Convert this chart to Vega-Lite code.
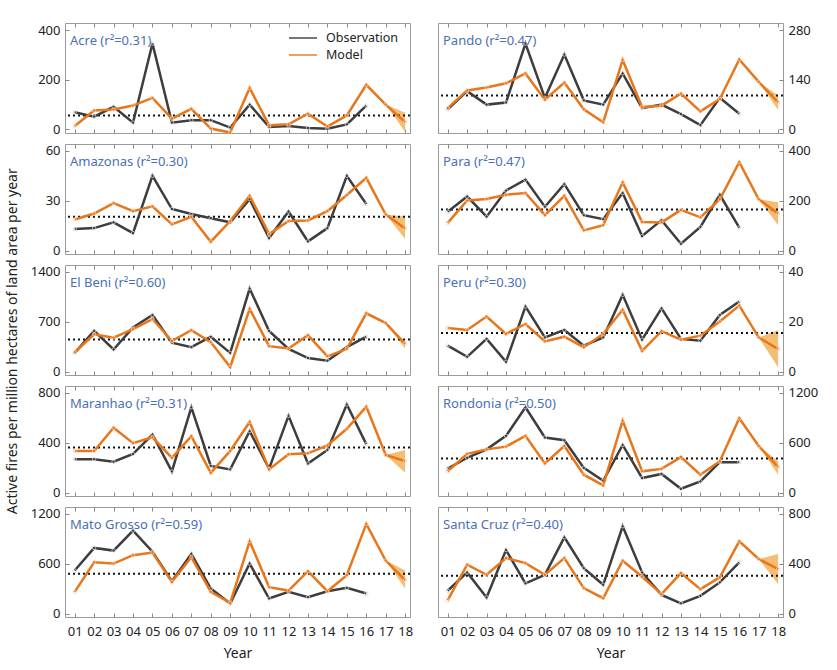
{
"$schema":"https://vega.github.io/schema/vega-lite/v6.json",
"background":"white",
"padding":{"left":5,"top":22,"right":5,"bottom":5},
"title":{"text":"Active fires per million hectares of land area per year","orient":"left","anchor":"middle","frame":"bounds","offset":10,"dx":0,"fontSize":14,"color":"#222","fontWeight":"normal"},
"data":{"values":[
{"region":"Acre","year":1,"series":"obs","value":69},{"region":"Acre","year":2,"series":"obs","value":51},{"region":"Acre","year":3,"series":"obs","value":91},{"region":"Acre","year":4,"series":"obs","value":27},{"region":"Acre","year":5,"series":"obs","value":347},{"region":"Acre","year":6,"series":"obs","value":27},{"region":"Acre","year":7,"series":"obs","value":37},{"region":"Acre","year":8,"series":"obs","value":37},{"region":"Acre","year":9,"series":"obs","value":7},{"region":"Acre","year":10,"series":"obs","value":100},{"region":"Acre","year":11,"series":"obs","value":9},{"region":"Acre","year":12,"series":"obs","value":13},{"region":"Acre","year":13,"series":"obs","value":5},{"region":"Acre","year":14,"series":"obs","value":2},{"region":"Acre","year":15,"series":"obs","value":20},{"region":"Acre","year":16,"series":"obs","value":96},
{"region":"Acre","year":1,"series":"model","value":13},{"region":"Acre","year":2,"series":"model","value":76},{"region":"Acre","year":3,"series":"model","value":80},{"region":"Acre","year":4,"series":"model","value":96},{"region":"Acre","year":5,"series":"model","value":127},{"region":"Acre","year":6,"series":"model","value":43},{"region":"Acre","year":7,"series":"model","value":83},{"region":"Acre","year":8,"series":"model","value":3},{"region":"Acre","year":9,"series":"model","value":-13},{"region":"Acre","year":10,"series":"model","value":167},{"region":"Acre","year":11,"series":"model","value":16},{"region":"Acre","year":12,"series":"model","value":20},{"region":"Acre","year":13,"series":"model","value":63},{"region":"Acre","year":14,"series":"model","value":11},{"region":"Acre","year":15,"series":"model","value":56},{"region":"Acre","year":16,"series":"model","value":180},{"region":"Acre","year":17,"series":"model","value":100},{"region":"Acre","year":18,"series":"model","value":29},
{"region":"Acre","year":17,"series":"band","value":100,"value2":100},{"region":"Acre","year":18,"series":"band","value":-11,"value2":67},{"region":"Acre","series":"mean","value":56},

{"region":"Pando","year":1,"series":"obs","value":57},{"region":"Pando","year":2,"series":"obs","value":108},{"region":"Pando","year":3,"series":"obs","value":70},{"region":"Pando","year":4,"series":"obs","value":76},{"region":"Pando","year":5,"series":"obs","value":242},{"region":"Pando","year":6,"series":"obs","value":89},{"region":"Pando","year":7,"series":"obs","value":211},{"region":"Pando","year":8,"series":"obs","value":82},{"region":"Pando","year":9,"series":"obs","value":70},{"region":"Pando","year":10,"series":"obs","value":158},{"region":"Pando","year":11,"series":"obs","value":60},{"region":"Pando","year":12,"series":"obs","value":70},{"region":"Pando","year":13,"series":"obs","value":43},{"region":"Pando","year":14,"series":"obs","value":12},{"region":"Pando","year":15,"series":"obs","value":89},{"region":"Pando","year":16,"series":"obs","value":44},
{"region":"Pando","year":1,"series":"model","value":60},{"region":"Pando","year":2,"series":"model","value":110},{"region":"Pando","year":3,"series":"model","value":118},{"region":"Pando","year":4,"series":"model","value":130},{"region":"Pando","year":5,"series":"model","value":158},{"region":"Pando","year":6,"series":"model","value":84},{"region":"Pando","year":7,"series":"model","value":132},{"region":"Pando","year":8,"series":"model","value":57},{"region":"Pando","year":9,"series":"model","value":20},{"region":"Pando","year":10,"series":"model","value":196},{"region":"Pando","year":11,"series":"model","value":63},{"region":"Pando","year":12,"series":"model","value":67},{"region":"Pando","year":13,"series":"model","value":101},{"region":"Pando","year":14,"series":"model","value":51},{"region":"Pando","year":15,"series":"model","value":86},{"region":"Pando","year":16,"series":"model","value":197},{"region":"Pando","year":17,"series":"model","value":134},{"region":"Pando","year":18,"series":"model","value":76},
{"region":"Pando","year":17,"series":"band","value":134,"value2":134},{"region":"Pando","year":18,"series":"band","value":55,"value2":96},{"region":"Pando","series":"mean","value":96},

{"region":"Amazonas","year":1,"series":"obs","value":13},{"region":"Amazonas","year":2,"series":"obs","value":13.5},{"region":"Amazonas","year":3,"series":"obs","value":17},{"region":"Amazonas","year":4,"series":"obs","value":10.5},{"region":"Amazonas","year":5,"series":"obs","value":45},{"region":"Amazonas","year":6,"series":"obs","value":25},{"region":"Amazonas","year":7,"series":"obs","value":22},{"region":"Amazonas","year":8,"series":"obs","value":19.5},{"region":"Amazonas","year":9,"series":"obs","value":17},{"region":"Amazonas","year":10,"series":"obs","value":31},{"region":"Amazonas","year":11,"series":"obs","value":7.5},{"region":"Amazonas","year":12,"series":"obs","value":23.5},{"region":"Amazonas","year":13,"series":"obs","value":5.5},{"region":"Amazonas","year":14,"series":"obs","value":13.5},{"region":"Amazonas","year":15,"series":"obs","value":45},{"region":"Amazonas","year":16,"series":"obs","value":28},
{"region":"Amazonas","year":1,"series":"model","value":18.7},{"region":"Amazonas","year":2,"series":"model","value":22.3},{"region":"Amazonas","year":3,"series":"model","value":28.6},{"region":"Amazonas","year":4,"series":"model","value":23.7},{"region":"Amazonas","year":5,"series":"model","value":26.6},{"region":"Amazonas","year":6,"series":"model","value":15.8},{"region":"Amazonas","year":7,"series":"model","value":20.3},{"region":"Amazonas","year":8,"series":"model","value":5.3},{"region":"Amazonas","year":9,"series":"model","value":17.8},{"region":"Amazonas","year":10,"series":"model","value":33},{"region":"Amazonas","year":11,"series":"model","value":9.9},{"region":"Amazonas","year":12,"series":"model","value":17.8},{"region":"Amazonas","year":13,"series":"model","value":18.1},{"region":"Amazonas","year":14,"series":"model","value":23.7},{"region":"Amazonas","year":15,"series":"model","value":33.5},{"region":"Amazonas","year":16,"series":"model","value":43.8},{"region":"Amazonas","year":17,"series":"model","value":21.7},{"region":"Amazonas","year":18,"series":"model","value":13.2},
{"region":"Amazonas","year":17,"series":"band","value":21.7,"value2":21.7},{"region":"Amazonas","year":18,"series":"band","value":6.9,"value2":20.3},{"region":"Amazonas","series":"mean","value":20.3},

{"region":"Para","year":1,"series":"obs","value":156},{"region":"Para","year":2,"series":"obs","value":217},{"region":"Para","year":3,"series":"obs","value":136},{"region":"Para","year":4,"series":"obs","value":241},{"region":"Para","year":5,"series":"obs","value":285},{"region":"Para","year":6,"series":"obs","value":176},{"region":"Para","year":7,"series":"obs","value":267},{"region":"Para","year":8,"series":"obs","value":142},{"region":"Para","year":9,"series":"obs","value":126},{"region":"Para","year":10,"series":"obs","value":231},{"region":"Para","year":11,"series":"obs","value":58},{"region":"Para","year":12,"series":"obs","value":122},{"region":"Para","year":13,"series":"obs","value":27},{"region":"Para","year":14,"series":"obs","value":95},{"region":"Para","year":15,"series":"obs","value":224},{"region":"Para","year":16,"series":"obs","value":92},
{"region":"Para","year":1,"series":"model","value":111},{"region":"Para","year":2,"series":"model","value":201},{"region":"Para","year":3,"series":"model","value":207},{"region":"Para","year":4,"series":"model","value":224},{"region":"Para","year":5,"series":"model","value":231},{"region":"Para","year":6,"series":"model","value":142},{"region":"Para","year":7,"series":"model","value":220},{"region":"Para","year":8,"series":"model","value":81},{"region":"Para","year":9,"series":"model","value":102},{"region":"Para","year":10,"series":"model","value":274},{"region":"Para","year":11,"series":"model","value":115},{"region":"Para","year":12,"series":"model","value":113},{"region":"Para","year":13,"series":"model","value":163},{"region":"Para","year":14,"series":"model","value":133},{"region":"Para","year":15,"series":"model","value":206},{"region":"Para","year":16,"series":"model","value":355},{"region":"Para","year":17,"series":"model","value":206},{"region":"Para","year":18,"series":"model","value":149},
{"region":"Para","year":17,"series":"band","value":206,"value2":206},{"region":"Para","year":18,"series":"band","value":102,"value2":194},{"region":"Para","series":"mean","value":165},

{"region":"El Beni","year":1,"series":"obs","value":262},{"region":"El Beni","year":2,"series":"obs","value":571},{"region":"El Beni","year":3,"series":"obs","value":310},{"region":"El Beni","year":4,"series":"obs","value":619},{"region":"El Beni","year":5,"series":"obs","value":795},{"region":"El Beni","year":6,"series":"obs","value":405},{"region":"El Beni","year":7,"series":"obs","value":343},{"region":"El Beni","year":8,"series":"obs","value":490},{"region":"El Beni","year":9,"series":"obs","value":262},{"region":"El Beni","year":10,"series":"obs","value":1167},{"region":"El Beni","year":11,"series":"obs","value":571},{"region":"El Beni","year":12,"series":"obs","value":319},{"region":"El Beni","year":13,"series":"obs","value":190},{"region":"El Beni","year":14,"series":"obs","value":152},{"region":"El Beni","year":15,"series":"obs","value":343},{"region":"El Beni","year":16,"series":"obs","value":490},
{"region":"El Beni","year":1,"series":"model","value":271},{"region":"El Beni","year":2,"series":"model","value":524},{"region":"El Beni","year":3,"series":"model","value":476},{"region":"El Beni","year":4,"series":"model","value":595},{"region":"El Beni","year":5,"series":"model","value":738},{"region":"El Beni","year":6,"series":"model","value":429},{"region":"El Beni","year":7,"series":"model","value":581},{"region":"El Beni","year":8,"series":"model","value":414},{"region":"El Beni","year":9,"series":"model","value":62},{"region":"El Beni","year":10,"series":"model","value":881},{"region":"El Beni","year":11,"series":"model","value":357},{"region":"El Beni","year":12,"series":"model","value":324},{"region":"El Beni","year":13,"series":"model","value":510},{"region":"El Beni","year":14,"series":"model","value":214},{"region":"El Beni","year":15,"series":"model","value":319},{"region":"El Beni","year":16,"series":"model","value":819},{"region":"El Beni","year":17,"series":"model","value":681},{"region":"El Beni","year":18,"series":"model","value":390},
{"region":"El Beni","year":17,"series":"band","value":681,"value2":681},{"region":"El Beni","year":18,"series":"band","value":319,"value2":414},{"region":"El Beni","series":"mean","value":452},

{"region":"Peru","year":1,"series":"obs","value":10.4},{"region":"Peru","year":2,"series":"obs","value":5.9},{"region":"Peru","year":3,"series":"obs","value":13.1},{"region":"Peru","year":4,"series":"obs","value":3.9},{"region":"Peru","year":5,"series":"obs","value":26.1},{"region":"Peru","year":6,"series":"obs","value":13.7},{"region":"Peru","year":7,"series":"obs","value":16.7},{"region":"Peru","year":8,"series":"obs","value":10.4},{"region":"Peru","year":9,"series":"obs","value":13.7},{"region":"Peru","year":10,"series":"obs","value":30.8},{"region":"Peru","year":11,"series":"obs","value":12.8},{"region":"Peru","year":12,"series":"obs","value":25.4},{"region":"Peru","year":13,"series":"obs","value":13.1},{"region":"Peru","year":14,"series":"obs","value":12.4},{"region":"Peru","year":15,"series":"obs","value":22.7},{"region":"Peru","year":16,"series":"obs","value":28.1},
{"region":"Peru","year":1,"series":"model","value":17.5},{"region":"Peru","year":2,"series":"model","value":16.7},{"region":"Peru","year":3,"series":"model","value":22.1},{"region":"Peru","year":4,"series":"model","value":15.1},{"region":"Peru","year":5,"series":"model","value":19.1},{"region":"Peru","year":6,"series":"model","value":12.1},{"region":"Peru","year":7,"series":"model","value":14},{"region":"Peru","year":8,"series":"model","value":9.7},{"region":"Peru","year":9,"series":"model","value":15.1},{"region":"Peru","year":10,"series":"model","value":24.8},{"region":"Peru","year":11,"series":"model","value":8.3},{"region":"Peru","year":12,"series":"model","value":16.2},{"region":"Peru","year":13,"series":"model","value":12.8},{"region":"Peru","year":14,"series":"model","value":14.4},{"region":"Peru","year":15,"series":"model","value":20.1},{"region":"Peru","year":16,"series":"model","value":26.5},{"region":"Peru","year":17,"series":"model","value":13.7},{"region":"Peru","year":18,"series":"model","value":9},
{"region":"Peru","year":17,"series":"band","value":13.7,"value2":13.7},{"region":"Peru","year":18,"series":"band","value":1.6,"value2":16.7},{"region":"Peru","series":"mean","value":15.5},

{"region":"Maranhao","year":1,"series":"obs","value":268},{"region":"Maranhao","year":2,"series":"obs","value":268},{"region":"Maranhao","year":3,"series":"obs","value":247},{"region":"Maranhao","year":4,"series":"obs","value":310},{"region":"Maranhao","year":5,"series":"obs","value":466},{"region":"Maranhao","year":6,"series":"obs","value":170},{"region":"Maranhao","year":7,"series":"obs","value":685},{"region":"Maranhao","year":8,"series":"obs","value":214},{"region":"Maranhao","year":9,"series":"obs","value":186},{"region":"Maranhao","year":10,"series":"obs","value":493},{"region":"Maranhao","year":11,"series":"obs","value":192},{"region":"Maranhao","year":12,"series":"obs","value":616},{"region":"Maranhao","year":13,"series":"obs","value":233},{"region":"Maranhao","year":14,"series":"obs","value":342},{"region":"Maranhao","year":15,"series":"obs","value":707},{"region":"Maranhao","year":16,"series":"obs","value":389},
{"region":"Maranhao","year":1,"series":"model","value":334},{"region":"Maranhao","year":2,"series":"model","value":334},{"region":"Maranhao","year":3,"series":"model","value":521},{"region":"Maranhao","year":4,"series":"model","value":397},{"region":"Maranhao","year":5,"series":"model","value":444},{"region":"Maranhao","year":6,"series":"model","value":279},{"region":"Maranhao","year":7,"series":"model","value":452},{"region":"Maranhao","year":8,"series":"model","value":159},{"region":"Maranhao","year":9,"series":"model","value":334},{"region":"Maranhao","year":10,"series":"model","value":567},{"region":"Maranhao","year":11,"series":"model","value":186},{"region":"Maranhao","year":12,"series":"model","value":307},{"region":"Maranhao","year":13,"series":"model","value":315},{"region":"Maranhao","year":14,"series":"model","value":378},{"region":"Maranhao","year":15,"series":"model","value":512},{"region":"Maranhao","year":16,"series":"model","value":690},{"region":"Maranhao","year":17,"series":"model","value":301},{"region":"Maranhao","year":18,"series":"model","value":252},
{"region":"Maranhao","year":17,"series":"band","value":301,"value2":301},{"region":"Maranhao","year":18,"series":"band","value":159,"value2":342},{"region":"Maranhao","series":"mean","value":362},

{"region":"Rondonia","year":1,"series":"obs","value":289},{"region":"Rondonia","year":2,"series":"obs","value":419},{"region":"Rondonia","year":3,"series":"obs","value":520},{"region":"Rondonia","year":4,"series":"obs","value":683},{"region":"Rondonia","year":5,"series":"obs","value":1028},{"region":"Rondonia","year":6,"series":"obs","value":663},{"region":"Rondonia","year":7,"series":"obs","value":630},{"region":"Rondonia","year":8,"series":"obs","value":297},{"region":"Rondonia","year":9,"series":"obs","value":142},{"region":"Rondonia","year":10,"series":"obs","value":573},{"region":"Rondonia","year":11,"series":"obs","value":175},{"region":"Rondonia","year":12,"series":"obs","value":224},{"region":"Rondonia","year":13,"series":"obs","value":45},{"region":"Rondonia","year":14,"series":"obs","value":134},{"region":"Rondonia","year":15,"series":"obs","value":366},{"region":"Rondonia","year":16,"series":"obs","value":366},
{"region":"Rondonia","year":1,"series":"model","value":256},{"region":"Rondonia","year":2,"series":"model","value":467},{"region":"Rondonia","year":3,"series":"model","value":520},{"region":"Rondonia","year":4,"series":"model","value":553},{"region":"Rondonia","year":5,"series":"model","value":683},{"region":"Rondonia","year":6,"series":"model","value":350},{"region":"Rondonia","year":7,"series":"model","value":561},{"region":"Rondonia","year":8,"series":"model","value":215},{"region":"Rondonia","year":9,"series":"model","value":85},{"region":"Rondonia","year":10,"series":"model","value":866},{"region":"Rondonia","year":11,"series":"model","value":256},{"region":"Rondonia","year":12,"series":"model","value":285},{"region":"Rondonia","year":13,"series":"model","value":427},{"region":"Rondonia","year":14,"series":"model","value":215},{"region":"Rondonia","year":15,"series":"model","value":378},{"region":"Rondonia","year":16,"series":"model","value":894},{"region":"Rondonia","year":17,"series":"model","value":561},{"region":"Rondonia","year":18,"series":"model","value":305},
{"region":"Rondonia","year":17,"series":"band","value":561,"value2":561},{"region":"Rondonia","year":18,"series":"band","value":215,"value2":378},{"region":"Rondonia","series":"mean","value":411},

{"region":"Mato Grosso","year":1,"series":"obs","value":518},{"region":"Mato Grosso","year":2,"series":"obs","value":791},{"region":"Mato Grosso","year":3,"series":"obs","value":759},{"region":"Mato Grosso","year":4,"series":"obs","value":1000},{"region":"Mato Grosso","year":5,"series":"obs","value":745},{"region":"Mato Grosso","year":6,"series":"obs","value":390},{"region":"Mato Grosso","year":7,"series":"obs","value":719},{"region":"Mato Grosso","year":8,"series":"obs","value":301},{"region":"Mato Grosso","year":9,"series":"obs","value":120},{"region":"Mato Grosso","year":10,"series":"obs","value":602},{"region":"Mato Grosso","year":11,"series":"obs","value":181},{"region":"Mato Grosso","year":12,"series":"obs","value":261},{"region":"Mato Grosso","year":13,"series":"obs","value":197},{"region":"Mato Grosso","year":14,"series":"obs","value":269},{"region":"Mato Grosso","year":15,"series":"obs","value":309},{"region":"Mato Grosso","year":16,"series":"obs","value":241},
{"region":"Mato Grosso","year":1,"series":"model","value":261},{"region":"Mato Grosso","year":2,"series":"model","value":618},{"region":"Mato Grosso","year":3,"series":"model","value":602},{"region":"Mato Grosso","year":4,"series":"model","value":703},{"region":"Mato Grosso","year":5,"series":"model","value":735},{"region":"Mato Grosso","year":6,"series":"model","value":382},{"region":"Mato Grosso","year":7,"series":"model","value":679},{"region":"Mato Grosso","year":8,"series":"model","value":261},{"region":"Mato Grosso","year":9,"series":"model","value":129},{"region":"Mato Grosso","year":10,"series":"model","value":871},{"region":"Mato Grosso","year":11,"series":"model","value":317},{"region":"Mato Grosso","year":12,"series":"model","value":277},{"region":"Mato Grosso","year":13,"series":"model","value":510},{"region":"Mato Grosso","year":14,"series":"model","value":269},{"region":"Mato Grosso","year":15,"series":"model","value":462},{"region":"Mato Grosso","year":16,"series":"model","value":1080},{"region":"Mato Grosso","year":17,"series":"model","value":639},{"region":"Mato Grosso","year":18,"series":"model","value":402},
{"region":"Mato Grosso","year":17,"series":"band","value":639,"value2":639},{"region":"Mato Grosso","year":18,"series":"band","value":301,"value2":518},{"region":"Mato Grosso","series":"mean","value":478},

{"region":"Santa Cruz","year":1,"series":"obs","value":183},{"region":"Santa Cruz","year":2,"series":"obs","value":330},{"region":"Santa Cruz","year":3,"series":"obs","value":129},{"region":"Santa Cruz","year":4,"series":"obs","value":510},{"region":"Santa Cruz","year":5,"series":"obs","value":242},{"region":"Santa Cruz","year":6,"series":"obs","value":311},{"region":"Santa Cruz","year":7,"series":"obs","value":612},{"region":"Santa Cruz","year":8,"series":"obs","value":365},{"region":"Santa Cruz","year":9,"series":"obs","value":231},{"region":"Santa Cruz","year":10,"series":"obs","value":701},{"region":"Santa Cruz","year":11,"series":"obs","value":330},{"region":"Santa Cruz","year":12,"series":"obs","value":150},{"region":"Santa Cruz","year":13,"series":"obs","value":81},{"region":"Santa Cruz","year":14,"series":"obs","value":142},{"region":"Santa Cruz","year":15,"series":"obs","value":250},{"region":"Santa Cruz","year":16,"series":"obs","value":411},
{"region":"Santa Cruz","year":1,"series":"model","value":107},{"region":"Santa Cruz","year":2,"series":"model","value":392},{"region":"Santa Cruz","year":3,"series":"model","value":311},{"region":"Santa Cruz","year":4,"series":"model","value":446},{"region":"Santa Cruz","year":5,"series":"model","value":405},{"region":"Santa Cruz","year":6,"series":"model","value":311},{"region":"Santa Cruz","year":7,"series":"model","value":446},{"region":"Santa Cruz","year":8,"series":"model","value":204},{"region":"Santa Cruz","year":9,"series":"model","value":123},{"region":"Santa Cruz","year":10,"series":"model","value":424},{"region":"Santa Cruz","year":11,"series":"model","value":295},{"region":"Santa Cruz","year":12,"series":"model","value":156},{"region":"Santa Cruz","year":13,"series":"model","value":325},{"region":"Santa Cruz","year":14,"series":"model","value":196},{"region":"Santa Cruz","year":15,"series":"model","value":290},{"region":"Santa Cruz","year":16,"series":"model","value":580},{"region":"Santa Cruz","year":17,"series":"model","value":438},{"region":"Santa Cruz","year":18,"series":"model","value":357},
{"region":"Santa Cruz","year":17,"series":"band","value":438,"value2":438},{"region":"Santa Cruz","year":18,"series":"band","value":236,"value2":478},{"region":"Santa Cruz","series":"mean","value":303}
]},
"spacing":22,
"hconcat":[
{"spacing":11,"bounds":"flush","vconcat":[
{"width":345,"height":110,"title":{"text":"Acre (r²=0.31)"},"transform":[{"filter":"datum.region === 'Acre'"}],
"encoding":{"y":{"field":"value","type":"quantitative","scale":{"domain":[-15,430],"nice":false,"zero":false},"axis":{"orient":"left","values":[0,200,400],"title":null}}},
"resolve":{"axis":{"x":"independent"}},
"layer":[
{"transform":[{"filter":"datum.series === 'band'"}],"mark":{"type":"area","color":"#f2b25c","opacity":0.85},"encoding":{"x":{"field":"year","type":"quantitative","scale":{"domain":[0.5,18.25],"nice":false,"zero":false},"axis":{"orient":"top","values":[1,2,3,4,5,6,7,8,9,10,11,12,13,14,15,16,17,18],"labels":false,"title":null}},"y2":{"field":"value2"}}},
{"transform":[{"filter":"datum.series === 'mean'"}],"mark":{"type":"rule","color":"#111","strokeDash":[2,3],"strokeWidth":2},"encoding":{}},
{"transform":[{"filter":"datum.series === 'obs'"}],"mark":{"type":"line","strokeWidth":2.5},"encoding":{"x":{"field":"year","type":"quantitative","scale":{"domain":[0.5,18.25],"nice":false,"zero":false},"axis":{"orient":"bottom","values":[1,2,3,4,5,6,7,8,9,10,11,12,13,14,15,16,17,18],"labels":false,"title":null}},"color":{"datum":"Observation","type":"nominal","scale":{"domain":["Observation","Model"],"range":["#3d3d3d","#e8761a"]},"legend":{"orient":"none","legendX":229,"legendY":6,"title":null,"symbolType":"M-1.75,0H1.75","symbolSize":256,"symbolStrokeWidth":2,"symbolOpacity":0.7,"labelFontSize":12.5,"labelOffset":14,"rowPadding":1}}}},
{"transform":[{"filter":"datum.series === 'obs'"}],"mark":{"type":"point","filled":false,"color":"#d5d5d5","size":12,"strokeWidth":0.8,"opacity":1},"encoding":{"x":{"field":"year","type":"quantitative","scale":{"domain":[0.5,18.25],"nice":false,"zero":false},"axis":null}}},
{"transform":[{"filter":"datum.series === 'model'"}],"mark":{"type":"line","strokeWidth":2.5},"encoding":{"x":{"field":"year","type":"quantitative","scale":{"domain":[0.5,18.25],"nice":false,"zero":false},"axis":null},"color":{"datum":"Model","type":"nominal"}}},
{"transform":[{"filter":"datum.series === 'model'"}],"mark":{"type":"point","filled":false,"color":"#f8cdb0","size":12,"strokeWidth":0.8,"opacity":1},"encoding":{"x":{"field":"year","type":"quantitative","scale":{"domain":[0.5,18.25],"nice":false,"zero":false},"axis":null}}}
]},
{"width":345,"height":110,"title":{"text":"Amazonas (r²=0.30)"},"transform":[{"filter":"datum.region === 'Amazonas'"}],
"encoding":{"y":{"field":"value","type":"quantitative","scale":{"domain":[-2.1,64.2],"nice":false,"zero":false},"axis":{"orient":"left","values":[0,30,60],"title":null}}},
"resolve":{"axis":{"x":"independent"}},
"layer":[
{"transform":[{"filter":"datum.series === 'band'"}],"mark":{"type":"area","color":"#f2b25c","opacity":0.85},"encoding":{"x":{"field":"year","type":"quantitative","scale":{"domain":[0.5,18.25],"nice":false,"zero":false},"axis":{"orient":"top","values":[1,2,3,4,5,6,7,8,9,10,11,12,13,14,15,16,17,18],"labels":false,"title":null}},"y2":{"field":"value2"}}},
{"transform":[{"filter":"datum.series === 'mean'"}],"mark":{"type":"rule","color":"#111","strokeDash":[2,3],"strokeWidth":2},"encoding":{}},
{"transform":[{"filter":"datum.series === 'obs'"}],"mark":{"type":"line","strokeWidth":2.5},"encoding":{"x":{"field":"year","type":"quantitative","scale":{"domain":[0.5,18.25],"nice":false,"zero":false},"axis":{"orient":"bottom","values":[1,2,3,4,5,6,7,8,9,10,11,12,13,14,15,16,17,18],"labels":false,"title":null}},"color":{"datum":"Observation","type":"nominal"}}},
{"transform":[{"filter":"datum.series === 'obs'"}],"mark":{"type":"point","filled":false,"color":"#d5d5d5","size":12,"strokeWidth":0.8,"opacity":1},"encoding":{"x":{"field":"year","type":"quantitative","scale":{"domain":[0.5,18.25],"nice":false,"zero":false},"axis":null}}},
{"transform":[{"filter":"datum.series === 'model'"}],"mark":{"type":"line","strokeWidth":2.5},"encoding":{"x":{"field":"year","type":"quantitative","scale":{"domain":[0.5,18.25],"nice":false,"zero":false},"axis":null},"color":{"datum":"Model","type":"nominal"}}},
{"transform":[{"filter":"datum.series === 'model'"}],"mark":{"type":"point","filled":false,"color":"#f8cdb0","size":12,"strokeWidth":0.8,"opacity":1},"encoding":{"x":{"field":"year","type":"quantitative","scale":{"domain":[0.5,18.25],"nice":false,"zero":false},"axis":null}}}
]},
{"width":345,"height":110,"title":{"text":"El Beni (r²=0.60)"},"transform":[{"filter":"datum.region === 'El Beni'"}],
"encoding":{"y":{"field":"value","type":"quantitative","scale":{"domain":[-49,1498],"nice":false,"zero":false},"axis":{"orient":"left","values":[0,700,1400],"title":null}}},
"resolve":{"axis":{"x":"independent"}},
"layer":[
{"transform":[{"filter":"datum.series === 'band'"}],"mark":{"type":"area","color":"#f2b25c","opacity":0.85},"encoding":{"x":{"field":"year","type":"quantitative","scale":{"domain":[0.5,18.25],"nice":false,"zero":false},"axis":{"orient":"top","values":[1,2,3,4,5,6,7,8,9,10,11,12,13,14,15,16,17,18],"labels":false,"title":null}},"y2":{"field":"value2"}}},
{"transform":[{"filter":"datum.series === 'mean'"}],"mark":{"type":"rule","color":"#111","strokeDash":[2,3],"strokeWidth":2},"encoding":{}},
{"transform":[{"filter":"datum.series === 'obs'"}],"mark":{"type":"line","strokeWidth":2.5},"encoding":{"x":{"field":"year","type":"quantitative","scale":{"domain":[0.5,18.25],"nice":false,"zero":false},"axis":{"orient":"bottom","values":[1,2,3,4,5,6,7,8,9,10,11,12,13,14,15,16,17,18],"labels":false,"title":null}},"color":{"datum":"Observation","type":"nominal"}}},
{"transform":[{"filter":"datum.series === 'obs'"}],"mark":{"type":"point","filled":false,"color":"#d5d5d5","size":12,"strokeWidth":0.8,"opacity":1},"encoding":{"x":{"field":"year","type":"quantitative","scale":{"domain":[0.5,18.25],"nice":false,"zero":false},"axis":null}}},
{"transform":[{"filter":"datum.series === 'model'"}],"mark":{"type":"line","strokeWidth":2.5},"encoding":{"x":{"field":"year","type":"quantitative","scale":{"domain":[0.5,18.25],"nice":false,"zero":false},"axis":null},"color":{"datum":"Model","type":"nominal"}}},
{"transform":[{"filter":"datum.series === 'model'"}],"mark":{"type":"point","filled":false,"color":"#f8cdb0","size":12,"strokeWidth":0.8,"opacity":1},"encoding":{"x":{"field":"year","type":"quantitative","scale":{"domain":[0.5,18.25],"nice":false,"zero":false},"axis":null}}}
]},
{"width":345,"height":110,"title":{"text":"Maranhao (r²=0.31)"},"transform":[{"filter":"datum.region === 'Maranhao'"}],
"encoding":{"y":{"field":"value","type":"quantitative","scale":{"domain":[-28,856],"nice":false,"zero":false},"axis":{"orient":"left","values":[0,400,800],"title":null}}},
"resolve":{"axis":{"x":"independent"}},
"layer":[
{"transform":[{"filter":"datum.series === 'band'"}],"mark":{"type":"area","color":"#f2b25c","opacity":0.85},"encoding":{"x":{"field":"year","type":"quantitative","scale":{"domain":[0.5,18.25],"nice":false,"zero":false},"axis":{"orient":"top","values":[1,2,3,4,5,6,7,8,9,10,11,12,13,14,15,16,17,18],"labels":false,"title":null}},"y2":{"field":"value2"}}},
{"transform":[{"filter":"datum.series === 'mean'"}],"mark":{"type":"rule","color":"#111","strokeDash":[2,3],"strokeWidth":2},"encoding":{}},
{"transform":[{"filter":"datum.series === 'obs'"}],"mark":{"type":"line","strokeWidth":2.5},"encoding":{"x":{"field":"year","type":"quantitative","scale":{"domain":[0.5,18.25],"nice":false,"zero":false},"axis":{"orient":"bottom","values":[1,2,3,4,5,6,7,8,9,10,11,12,13,14,15,16,17,18],"labels":false,"title":null}},"color":{"datum":"Observation","type":"nominal"}}},
{"transform":[{"filter":"datum.series === 'obs'"}],"mark":{"type":"point","filled":false,"color":"#d5d5d5","size":12,"strokeWidth":0.8,"opacity":1},"encoding":{"x":{"field":"year","type":"quantitative","scale":{"domain":[0.5,18.25],"nice":false,"zero":false},"axis":null}}},
{"transform":[{"filter":"datum.series === 'model'"}],"mark":{"type":"line","strokeWidth":2.5},"encoding":{"x":{"field":"year","type":"quantitative","scale":{"domain":[0.5,18.25],"nice":false,"zero":false},"axis":null},"color":{"datum":"Model","type":"nominal"}}},
{"transform":[{"filter":"datum.series === 'model'"}],"mark":{"type":"point","filled":false,"color":"#f8cdb0","size":12,"strokeWidth":0.8,"opacity":1},"encoding":{"x":{"field":"year","type":"quantitative","scale":{"domain":[0.5,18.25],"nice":false,"zero":false},"axis":null}}}
]},
{"width":345,"height":110,"title":{"text":"Mato Grosso (r²=0.59)"},"transform":[{"filter":"datum.region === 'Mato Grosso'"}],
"encoding":{"y":{"field":"value","type":"quantitative","scale":{"domain":[-42,1284],"nice":false,"zero":false},"axis":{"orient":"left","values":[0,600,1200],"title":null}}},
"resolve":{"axis":{"x":"independent"}},
"layer":[
{"transform":[{"filter":"datum.series === 'band'"}],"mark":{"type":"area","color":"#f2b25c","opacity":0.85},"encoding":{"x":{"field":"year","type":"quantitative","scale":{"domain":[0.5,18.25],"nice":false,"zero":false},"axis":{"orient":"top","values":[1,2,3,4,5,6,7,8,9,10,11,12,13,14,15,16,17,18],"labels":false,"title":null}},"y2":{"field":"value2"}}},
{"transform":[{"filter":"datum.series === 'mean'"}],"mark":{"type":"rule","color":"#111","strokeDash":[2,3],"strokeWidth":2},"encoding":{}},
{"transform":[{"filter":"datum.series === 'obs'"}],"mark":{"type":"line","strokeWidth":2.5},"encoding":{"x":{"field":"year","type":"quantitative","scale":{"domain":[0.5,18.25],"nice":false,"zero":false},"axis":{"orient":"bottom","values":[1,2,3,4,5,6,7,8,9,10,11,12,13,14,15,16,17,18],"labelExpr":"datum.value < 10 ? '0' + datum.value : '' + datum.value","labelPadding":12,"title":"Year","titlePadding":8}},"color":{"datum":"Observation","type":"nominal"}}},
{"transform":[{"filter":"datum.series === 'obs'"}],"mark":{"type":"point","filled":false,"color":"#d5d5d5","size":12,"strokeWidth":0.8,"opacity":1},"encoding":{"x":{"field":"year","type":"quantitative","scale":{"domain":[0.5,18.25],"nice":false,"zero":false},"axis":null}}},
{"transform":[{"filter":"datum.series === 'model'"}],"mark":{"type":"line","strokeWidth":2.5},"encoding":{"x":{"field":"year","type":"quantitative","scale":{"domain":[0.5,18.25],"nice":false,"zero":false},"axis":null},"color":{"datum":"Model","type":"nominal"}}},
{"transform":[{"filter":"datum.series === 'model'"}],"mark":{"type":"point","filled":false,"color":"#f8cdb0","size":12,"strokeWidth":0.8,"opacity":1},"encoding":{"x":{"field":"year","type":"quantitative","scale":{"domain":[0.5,18.25],"nice":false,"zero":false},"axis":null}}}
]}
]},
{"spacing":11,"bounds":"flush","vconcat":[
{"width":345,"height":110,"title":{"text":"Pando (r²=0.47)"},"transform":[{"filter":"datum.region === 'Pando'"}],
"encoding":{"y":{"field":"value","type":"quantitative","scale":{"domain":[-10,300],"nice":false,"zero":false},"axis":{"orient":"right","values":[0,140,280],"title":null}}},
"resolve":{"axis":{"x":"independent"}},
"layer":[
{"transform":[{"filter":"datum.series === 'band'"}],"mark":{"type":"area","color":"#f2b25c","opacity":0.85},"encoding":{"x":{"field":"year","type":"quantitative","scale":{"domain":[0.5,18.25],"nice":false,"zero":false},"axis":{"orient":"top","values":[1,2,3,4,5,6,7,8,9,10,11,12,13,14,15,16,17,18],"labels":false,"title":null}},"y2":{"field":"value2"}}},
{"transform":[{"filter":"datum.series === 'mean'"}],"mark":{"type":"rule","color":"#111","strokeDash":[2,3],"strokeWidth":2},"encoding":{}},
{"transform":[{"filter":"datum.series === 'obs'"}],"mark":{"type":"line","strokeWidth":2.5},"encoding":{"x":{"field":"year","type":"quantitative","scale":{"domain":[0.5,18.25],"nice":false,"zero":false},"axis":{"orient":"bottom","values":[1,2,3,4,5,6,7,8,9,10,11,12,13,14,15,16,17,18],"labels":false,"title":null}},"color":{"datum":"Observation","type":"nominal"}}},
{"transform":[{"filter":"datum.series === 'obs'"}],"mark":{"type":"point","filled":false,"color":"#d5d5d5","size":12,"strokeWidth":0.8,"opacity":1},"encoding":{"x":{"field":"year","type":"quantitative","scale":{"domain":[0.5,18.25],"nice":false,"zero":false},"axis":null}}},
{"transform":[{"filter":"datum.series === 'model'"}],"mark":{"type":"line","strokeWidth":2.5},"encoding":{"x":{"field":"year","type":"quantitative","scale":{"domain":[0.5,18.25],"nice":false,"zero":false},"axis":null},"color":{"datum":"Model","type":"nominal"}}},
{"transform":[{"filter":"datum.series === 'model'"}],"mark":{"type":"point","filled":false,"color":"#f8cdb0","size":12,"strokeWidth":0.8,"opacity":1},"encoding":{"x":{"field":"year","type":"quantitative","scale":{"domain":[0.5,18.25],"nice":false,"zero":false},"axis":null}}}
]},
{"width":345,"height":110,"title":{"text":"Para (r²=0.47)"},"transform":[{"filter":"datum.region === 'Para'"}],
"encoding":{"y":{"field":"value","type":"quantitative","scale":{"domain":[-14,428],"nice":false,"zero":false},"axis":{"orient":"right","values":[0,200,400],"title":null}}},
"resolve":{"axis":{"x":"independent"}},
"layer":[
{"transform":[{"filter":"datum.series === 'band'"}],"mark":{"type":"area","color":"#f2b25c","opacity":0.85},"encoding":{"x":{"field":"year","type":"quantitative","scale":{"domain":[0.5,18.25],"nice":false,"zero":false},"axis":{"orient":"top","values":[1,2,3,4,5,6,7,8,9,10,11,12,13,14,15,16,17,18],"labels":false,"title":null}},"y2":{"field":"value2"}}},
{"transform":[{"filter":"datum.series === 'mean'"}],"mark":{"type":"rule","color":"#111","strokeDash":[2,3],"strokeWidth":2},"encoding":{}},
{"transform":[{"filter":"datum.series === 'obs'"}],"mark":{"type":"line","strokeWidth":2.5},"encoding":{"x":{"field":"year","type":"quantitative","scale":{"domain":[0.5,18.25],"nice":false,"zero":false},"axis":{"orient":"bottom","values":[1,2,3,4,5,6,7,8,9,10,11,12,13,14,15,16,17,18],"labels":false,"title":null}},"color":{"datum":"Observation","type":"nominal"}}},
{"transform":[{"filter":"datum.series === 'obs'"}],"mark":{"type":"point","filled":false,"color":"#d5d5d5","size":12,"strokeWidth":0.8,"opacity":1},"encoding":{"x":{"field":"year","type":"quantitative","scale":{"domain":[0.5,18.25],"nice":false,"zero":false},"axis":null}}},
{"transform":[{"filter":"datum.series === 'model'"}],"mark":{"type":"line","strokeWidth":2.5},"encoding":{"x":{"field":"year","type":"quantitative","scale":{"domain":[0.5,18.25],"nice":false,"zero":false},"axis":null},"color":{"datum":"Model","type":"nominal"}}},
{"transform":[{"filter":"datum.series === 'model'"}],"mark":{"type":"point","filled":false,"color":"#f8cdb0","size":12,"strokeWidth":0.8,"opacity":1},"encoding":{"x":{"field":"year","type":"quantitative","scale":{"domain":[0.5,18.25],"nice":false,"zero":false},"axis":null}}}
]},
{"width":345,"height":110,"title":{"text":"Peru (r²=0.30)"},"transform":[{"filter":"datum.region === 'Peru'"}],
"encoding":{"y":{"field":"value","type":"quantitative","scale":{"domain":[-1.4,42.8],"nice":false,"zero":false},"axis":{"orient":"right","values":[0,20,40],"title":null}}},
"resolve":{"axis":{"x":"independent"}},
"layer":[
{"transform":[{"filter":"datum.series === 'band'"}],"mark":{"type":"area","color":"#f2b25c","opacity":0.85},"encoding":{"x":{"field":"year","type":"quantitative","scale":{"domain":[0.5,18.25],"nice":false,"zero":false},"axis":{"orient":"top","values":[1,2,3,4,5,6,7,8,9,10,11,12,13,14,15,16,17,18],"labels":false,"title":null}},"y2":{"field":"value2"}}},
{"transform":[{"filter":"datum.series === 'mean'"}],"mark":{"type":"rule","color":"#111","strokeDash":[2,3],"strokeWidth":2},"encoding":{}},
{"transform":[{"filter":"datum.series === 'obs'"}],"mark":{"type":"line","strokeWidth":2.5},"encoding":{"x":{"field":"year","type":"quantitative","scale":{"domain":[0.5,18.25],"nice":false,"zero":false},"axis":{"orient":"bottom","values":[1,2,3,4,5,6,7,8,9,10,11,12,13,14,15,16,17,18],"labels":false,"title":null}},"color":{"datum":"Observation","type":"nominal"}}},
{"transform":[{"filter":"datum.series === 'obs'"}],"mark":{"type":"point","filled":false,"color":"#d5d5d5","size":12,"strokeWidth":0.8,"opacity":1},"encoding":{"x":{"field":"year","type":"quantitative","scale":{"domain":[0.5,18.25],"nice":false,"zero":false},"axis":null}}},
{"transform":[{"filter":"datum.series === 'model'"}],"mark":{"type":"line","strokeWidth":2.5},"encoding":{"x":{"field":"year","type":"quantitative","scale":{"domain":[0.5,18.25],"nice":false,"zero":false},"axis":null},"color":{"datum":"Model","type":"nominal"}}},
{"transform":[{"filter":"datum.series === 'model'"}],"mark":{"type":"point","filled":false,"color":"#f8cdb0","size":12,"strokeWidth":0.8,"opacity":1},"encoding":{"x":{"field":"year","type":"quantitative","scale":{"domain":[0.5,18.25],"nice":false,"zero":false},"axis":null}}}
]},
{"width":345,"height":110,"title":{"text":"Rondonia (r²=0.50)"},"transform":[{"filter":"datum.region === 'Rondonia'"}],
"encoding":{"y":{"field":"value","type":"quantitative","scale":{"domain":[-42,1284],"nice":false,"zero":false},"axis":{"orient":"right","values":[0,600,1200],"title":null}}},
"resolve":{"axis":{"x":"independent"}},
"layer":[
{"transform":[{"filter":"datum.series === 'band'"}],"mark":{"type":"area","color":"#f2b25c","opacity":0.85},"encoding":{"x":{"field":"year","type":"quantitative","scale":{"domain":[0.5,18.25],"nice":false,"zero":false},"axis":{"orient":"top","values":[1,2,3,4,5,6,7,8,9,10,11,12,13,14,15,16,17,18],"labels":false,"title":null}},"y2":{"field":"value2"}}},
{"transform":[{"filter":"datum.series === 'mean'"}],"mark":{"type":"rule","color":"#111","strokeDash":[2,3],"strokeWidth":2},"encoding":{}},
{"transform":[{"filter":"datum.series === 'obs'"}],"mark":{"type":"line","strokeWidth":2.5},"encoding":{"x":{"field":"year","type":"quantitative","scale":{"domain":[0.5,18.25],"nice":false,"zero":false},"axis":{"orient":"bottom","values":[1,2,3,4,5,6,7,8,9,10,11,12,13,14,15,16,17,18],"labels":false,"title":null}},"color":{"datum":"Observation","type":"nominal"}}},
{"transform":[{"filter":"datum.series === 'obs'"}],"mark":{"type":"point","filled":false,"color":"#d5d5d5","size":12,"strokeWidth":0.8,"opacity":1},"encoding":{"x":{"field":"year","type":"quantitative","scale":{"domain":[0.5,18.25],"nice":false,"zero":false},"axis":null}}},
{"transform":[{"filter":"datum.series === 'model'"}],"mark":{"type":"line","strokeWidth":2.5},"encoding":{"x":{"field":"year","type":"quantitative","scale":{"domain":[0.5,18.25],"nice":false,"zero":false},"axis":null},"color":{"datum":"Model","type":"nominal"}}},
{"transform":[{"filter":"datum.series === 'model'"}],"mark":{"type":"point","filled":false,"color":"#f8cdb0","size":12,"strokeWidth":0.8,"opacity":1},"encoding":{"x":{"field":"year","type":"quantitative","scale":{"domain":[0.5,18.25],"nice":false,"zero":false},"axis":null}}}
]},
{"width":345,"height":110,"title":{"text":"Santa Cruz (r²=0.40)"},"transform":[{"filter":"datum.region === 'Santa Cruz'"}],
"encoding":{"y":{"field":"value","type":"quantitative","scale":{"domain":[-28,856],"nice":false,"zero":false},"axis":{"orient":"right","values":[0,400,800],"title":null}}},
"resolve":{"axis":{"x":"independent"}},
"layer":[
{"transform":[{"filter":"datum.series === 'band'"}],"mark":{"type":"area","color":"#f2b25c","opacity":0.85},"encoding":{"x":{"field":"year","type":"quantitative","scale":{"domain":[0.5,18.25],"nice":false,"zero":false},"axis":{"orient":"top","values":[1,2,3,4,5,6,7,8,9,10,11,12,13,14,15,16,17,18],"labels":false,"title":null}},"y2":{"field":"value2"}}},
{"transform":[{"filter":"datum.series === 'mean'"}],"mark":{"type":"rule","color":"#111","strokeDash":[2,3],"strokeWidth":2},"encoding":{}},
{"transform":[{"filter":"datum.series === 'obs'"}],"mark":{"type":"line","strokeWidth":2.5},"encoding":{"x":{"field":"year","type":"quantitative","scale":{"domain":[0.5,18.25],"nice":false,"zero":false},"axis":{"orient":"bottom","values":[1,2,3,4,5,6,7,8,9,10,11,12,13,14,15,16,17,18],"labelExpr":"datum.value < 10 ? '0' + datum.value : '' + datum.value","labelPadding":12,"title":"Year","titlePadding":8}},"color":{"datum":"Observation","type":"nominal"}}},
{"transform":[{"filter":"datum.series === 'obs'"}],"mark":{"type":"point","filled":false,"color":"#d5d5d5","size":12,"strokeWidth":0.8,"opacity":1},"encoding":{"x":{"field":"year","type":"quantitative","scale":{"domain":[0.5,18.25],"nice":false,"zero":false},"axis":null}}},
{"transform":[{"filter":"datum.series === 'model'"}],"mark":{"type":"line","strokeWidth":2.5},"encoding":{"x":{"field":"year","type":"quantitative","scale":{"domain":[0.5,18.25],"nice":false,"zero":false},"axis":null},"color":{"datum":"Model","type":"nominal"}}},
{"transform":[{"filter":"datum.series === 'model'"}],"mark":{"type":"point","filled":false,"color":"#f8cdb0","size":12,"strokeWidth":0.8,"opacity":1},"encoding":{"x":{"field":"year","type":"quantitative","scale":{"domain":[0.5,18.25],"nice":false,"zero":false},"axis":null}}}
]}
]}
],
"config":{
"font":"Noto Sans",
"view":{"stroke":"#9b9b9b","strokeWidth":1},
"axis":{"grid":false,"domain":false,"format":"d","labelFont":"Noto Sans","titleFont":"Noto Sans","labelFontSize":13,"labelColor":"#222","tickColor":"#888","tickSize":-4,"labelPadding":9,"titleFontSize":14,"titleFontWeight":"normal","titleColor":"#222","minExtent":0},
"title":{"anchor":"start","frame":"group","offset":-25,"dx":5,"color":"#4a70b5","fontSize":13,"fontWeight":"normal","font":"Noto Sans"},
"legend":{"labelFont":"Noto Sans","labelFontSize":12.5,"labelColor":"#222"}
}
}
